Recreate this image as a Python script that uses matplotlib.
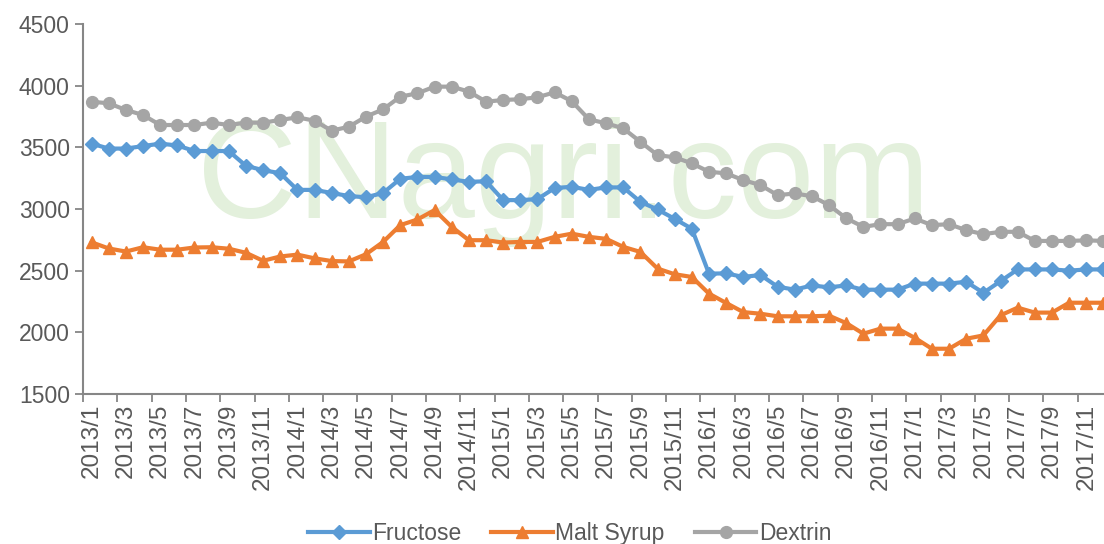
import numpy as np
import matplotlib
matplotlib.use("Agg")
import matplotlib.pyplot as plt

plt.rcParams['font.family'] = ['Liberation Sans', 'DejaVu Sans']

months = [f"{y}/{m}" for y in range(2013, 2018) for m in range(1, 13)]

fructose = [3530, 3490, 3490, 3510, 3530, 3515, 3470, 3470, 3470, 3350,
            3315, 3290, 3155, 3155, 3130, 3105, 3095, 3130, 3245, 3260,
            3260, 3240, 3220, 3225, 3072, 3072, 3080, 3170, 3180, 3155,
            3175, 3175, 3058, 2996, 2920, 2840, 2476, 2478, 2449, 2465,
            2370, 2346, 2380, 2365, 2380, 2345, 2346, 2346, 2395, 2395,
            2395, 2410, 2320, 2415, 2510, 2510, 2510, 2500, 2510, 2510]

malt_syrup = [2730, 2680, 2655, 2690, 2670, 2670, 2688, 2690, 2678, 2645,
              2580, 2615, 2630, 2600, 2578, 2575, 2633, 2733, 2869, 2915,
              2991, 2855, 2747, 2747, 2728, 2733, 2733, 2774, 2800, 2774,
              2758, 2693, 2652, 2517, 2471, 2449, 2314, 2238, 2164, 2151,
              2130, 2130, 2130, 2135, 2075, 1989, 2030, 2030, 1955, 1867,
              1867, 1948, 1975, 2138, 2200, 2160, 2160, 2240, 2240, 2240]

dextrin = [3870, 3857, 3803, 3762, 3681, 3681, 3681, 3700, 3681, 3700,
           3700, 3722, 3743, 3716, 3635, 3667, 3749, 3808, 3911, 3938,
           3992, 3992, 3952, 3870, 3884, 3890, 3906, 3946, 3874, 3727,
           3695, 3654, 3545, 3437, 3419, 3370, 3302, 3289, 3234, 3194,
           3112, 3126, 3104, 3031, 2925, 2855, 2877, 2877, 2923, 2869,
           2877, 2828, 2796, 2815, 2815, 2741, 2741, 2741, 2746, 2741]

x = np.arange(len(months))

fig = plt.figure(figsize=(11.04, 5.44), dpi=100)
ax = fig.add_axes([83 / 1104, 150 / 544, 1029 / 1104, 370 / 544])
ax.set_zorder(1)
ax.patch.set_alpha(0)

# watermark
fig.text(0.51, 0.665, "CNagri.com", fontsize=100, color="#e3f0dc",
         ha="center", va="center", zorder=0)

ax.plot(x, fructose, color="#5b9bd5", lw=3, marker="D", ms=7, label="Fructose")
ax.plot(x, malt_syrup, color="#ed7d31", lw=3, marker="^", ms=9, label="Malt Syrup")
ax.plot(x, dextrin, color="#a5a5a5", lw=3, marker="o", ms=8.5, label="Dextrin")

ax.set_xlim(-0.5, len(months) - 0.5)
ax.set_ylim(1500, 4500)
ax.set_yticks(range(1500, 4501, 500))
ax.set_xticks(np.arange(-0.5, len(months), 2))
ax.set_xticklabels([])
ax.set_xticks(x[::2], minor=True)
ax.set_xticklabels(months[::2], minor=True, rotation=90)
ax.tick_params(axis="x", which="minor", length=0, pad=7, labelsize=17.5)
ax.tick_params(axis="x", which="major", length=6, width=1.3, color="#868686")
ax.tick_params(axis="y", length=6, width=1.3, color="#868686", labelsize=16.5)
ax.tick_params(which="both", labelcolor="#595959")

for s in ["top", "right"]:
    ax.spines[s].set_visible(False)
for s in ["left", "bottom"]:
    ax.spines[s].set_color("#868686")
    ax.spines[s].set_linewidth(1.5)

fig.legend(loc="center", bbox_to_anchor=(0.516, 0.02), ncol=3, frameon=False,
           fontsize=16.5, labelcolor="#595959", handlelength=2.7,
           columnspacing=1.3, handletextpad=0.1)

fig.savefig("out.png", dpi=100)
